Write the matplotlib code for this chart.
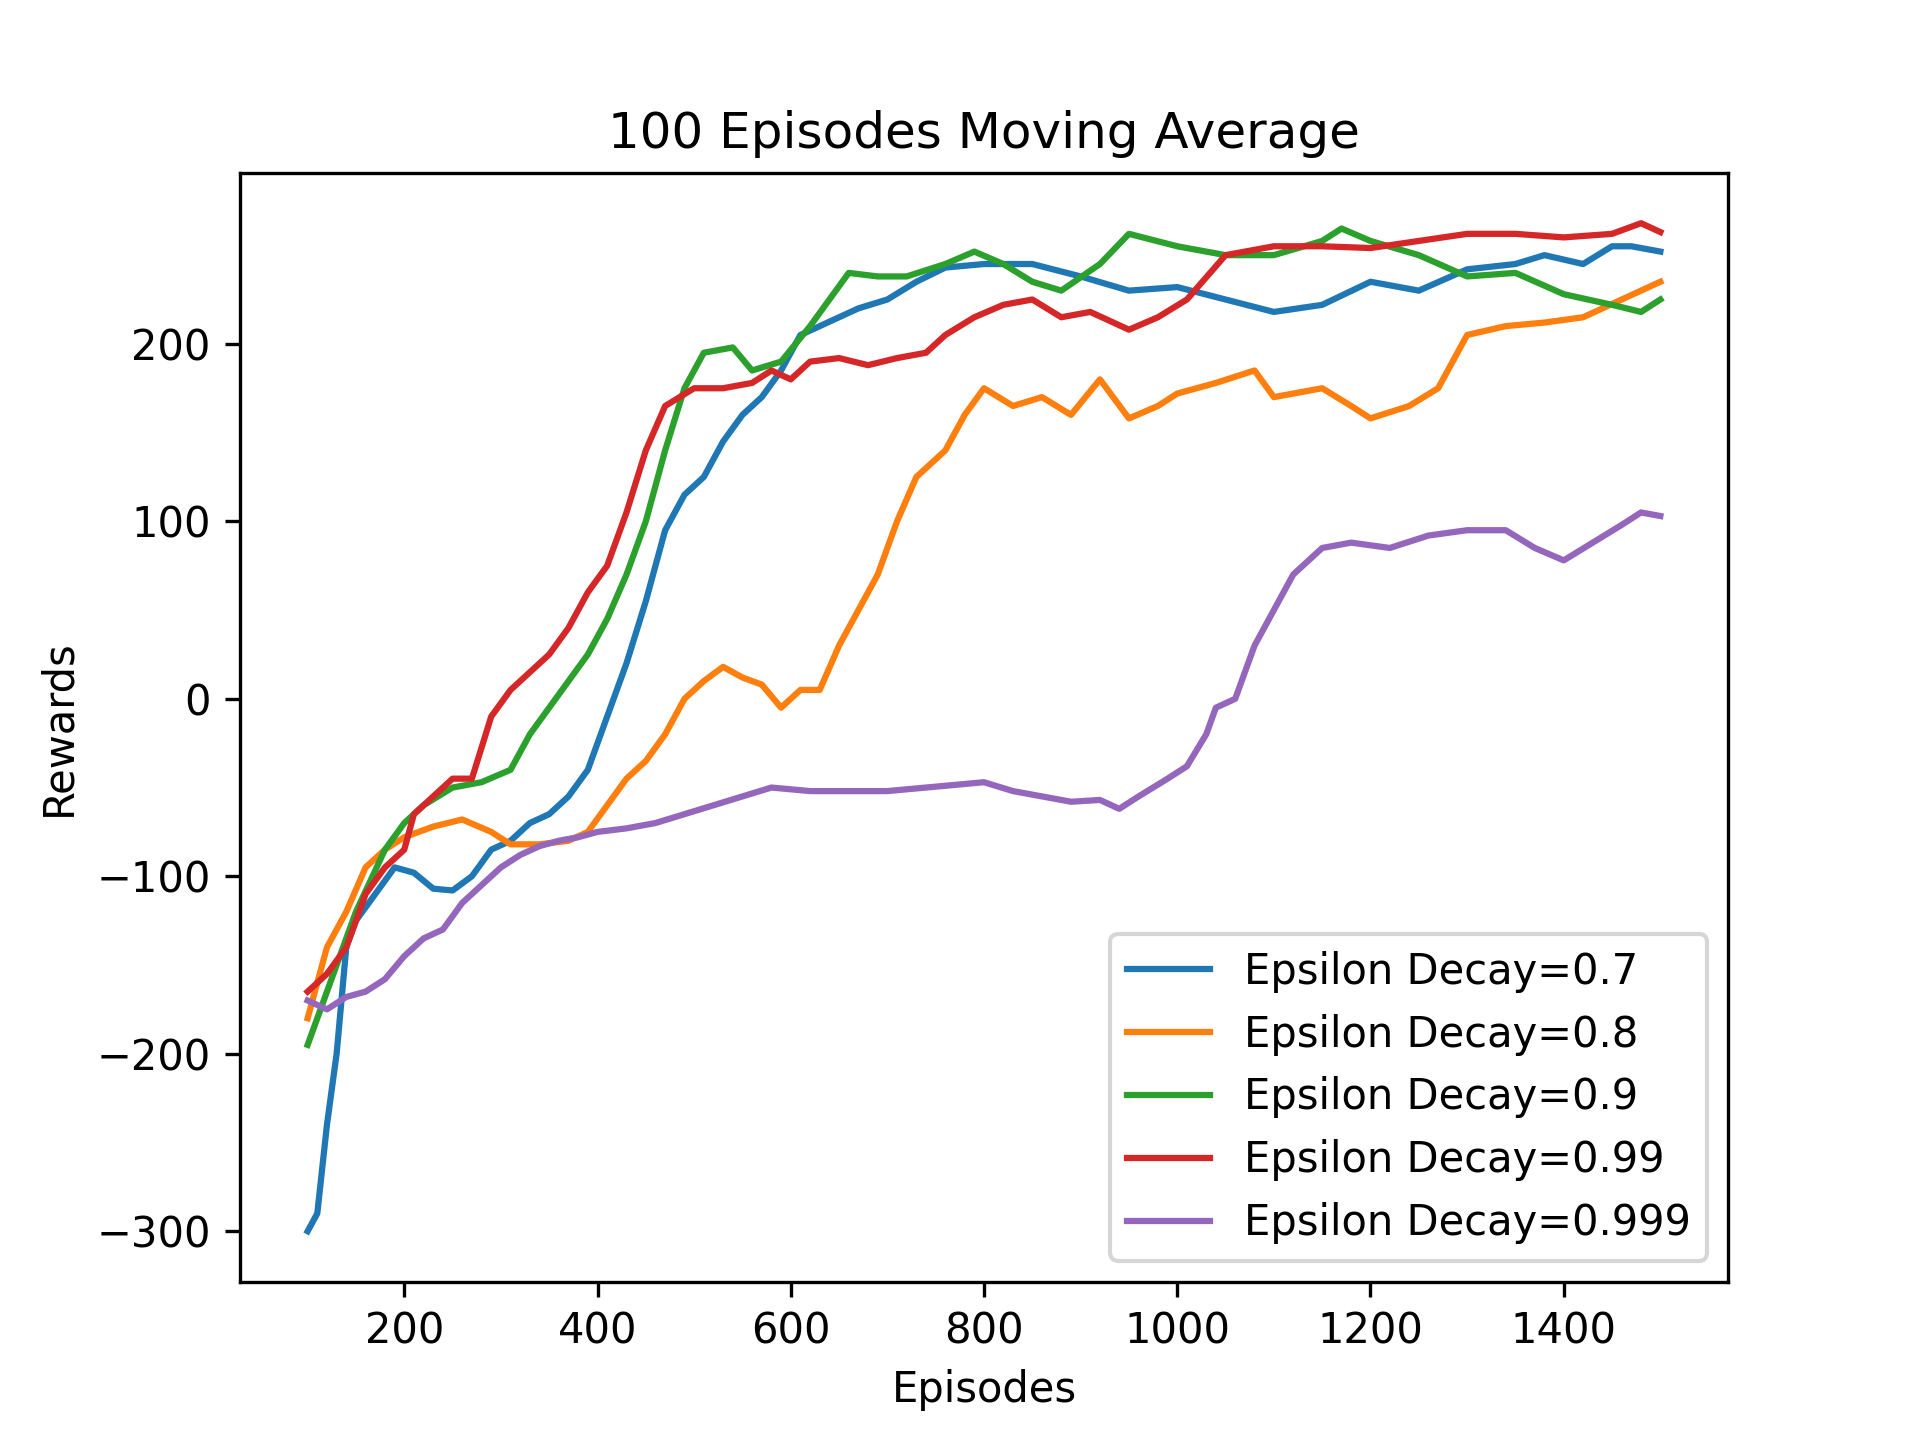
import matplotlib
matplotlib.use("Agg")
import matplotlib.pyplot as plt

# values, keyed by episode
x_07 = [100, 110, 120, 130, 140, 150, 170, 190, 210, 230, 250, 270, 290, 310, 330, 350, 370, 390, 410, 430, 450, 470, 490, 510, 530, 550, 570, 590, 610, 630, 650, 670, 700, 730, 760, 800, 850, 900, 950, 1000, 1050, 1100, 1150, 1200, 1250, 1300, 1350, 1380, 1420, 1450, 1470, 1500]
y_07 = [-300, -290, -240, -200, -140, -125, -110, -95, -98, -107, -108, -100, -85, -80, -70, -65, -55, -40, -10, 20, 55, 95, 115, 125, 145, 160, 170, 185, 205, 210, 215, 220, 225, 235, 243, 245, 245, 238, 230, 232, 225, 218, 222, 235, 230, 242, 245, 250, 245, 255, 255, 252]

x_08 = [100, 120, 140, 160, 180, 200, 230, 260, 290, 310, 340, 370, 390, 410, 430, 450, 470, 490, 510, 530, 550, 570, 590, 610, 630, 650, 670, 690, 710, 730, 760, 780, 800, 830, 860, 890, 920, 950, 980, 1000, 1040, 1080, 1100, 1150, 1180, 1200, 1240, 1270, 1300, 1340, 1380, 1420, 1460, 1500]
y_08 = [-180, -140, -120, -95, -85, -78, -72, -68, -75, -82, -82, -80, -75, -60, -45, -35, -20, 0, 10, 18, 12, 8, -5, 5, 5, 30, 50, 70, 100, 125, 140, 160, 175, 165, 170, 160, 180, 158, 165, 172, 178, 185, 170, 175, 165, 158, 165, 175, 205, 210, 212, 215, 225, 235]

x_09 = [100, 130, 150, 180, 200, 220, 250, 280, 310, 330, 350, 370, 390, 410, 430, 450, 470, 490, 510, 540, 560, 590, 620, 640, 660, 690, 720, 760, 790, 820, 850, 880, 920, 950, 1000, 1050, 1100, 1150, 1170, 1200, 1250, 1300, 1350, 1400, 1450, 1480, 1500]
y_09 = [-195, -150, -120, -85, -70, -60, -50, -47, -40, -20, -5, 10, 25, 45, 70, 100, 140, 175, 195, 198, 185, 190, 210, 225, 240, 238, 238, 245, 252, 245, 235, 230, 245, 262, 255, 250, 250, 258, 265, 258, 250, 238, 240, 228, 222, 218, 225]

x_099 = [100, 120, 140, 160, 180, 200, 210, 230, 250, 270, 290, 310, 330, 350, 370, 390, 410, 430, 450, 470, 500, 530, 560, 580, 600, 620, 650, 680, 710, 740, 760, 790, 820, 850, 880, 910, 950, 980, 1010, 1050, 1100, 1150, 1200, 1250, 1300, 1350, 1400, 1450, 1480, 1500]
y_099 = [-165, -155, -140, -110, -95, -85, -65, -55, -45, -45, -10, 5, 15, 25, 40, 60, 75, 105, 140, 165, 175, 175, 178, 185, 180, 190, 192, 188, 192, 195, 205, 215, 222, 225, 215, 218, 208, 215, 225, 250, 255, 255, 254, 258, 262, 262, 260, 262, 268, 263]

x_0999 = [100, 120, 140, 160, 180, 200, 220, 240, 260, 280, 300, 320, 340, 360, 380, 400, 430, 460, 490, 520, 550, 580, 620, 660, 700, 740, 780, 800, 830, 860, 890, 920, 940, 960, 990, 1010, 1030, 1040, 1060, 1080, 1100, 1120, 1150, 1180, 1220, 1260, 1300, 1340, 1370, 1400, 1430, 1460, 1480, 1500]
y_0999 = [-170, -175, -168, -165, -158, -145, -135, -130, -115, -105, -95, -88, -83, -80, -78, -75, -73, -70, -65, -60, -55, -50, -52, -52, -52, -50, -48, -47, -52, -55, -58, -57, -62, -55, -45, -38, -20, -5, 0, 30, 50, 70, 85, 88, 85, 92, 95, 95, 85, 78, 88, 98, 105, 103]

series = [
    ("Epsilon Decay=0.7", x_07, y_07),
    ("Epsilon Decay=0.8", x_08, y_08),
    ("Epsilon Decay=0.9", x_09, y_09),
    ("Epsilon Decay=0.99", x_099, y_099),
    ("Epsilon Decay=0.999", x_0999, y_0999),
]

fig, ax = plt.subplots(figsize=(6.4, 4.8))
for label, xs, ys in series:
    ax.plot(xs, ys, label=label)
ax.set_title("100 Episodes Moving Average")
ax.set_xlabel("Episodes")
ax.set_ylabel("Rewards")
ax.legend(loc="lower right")
fig.savefig("out.png", dpi=300)
plt.close(fig)
